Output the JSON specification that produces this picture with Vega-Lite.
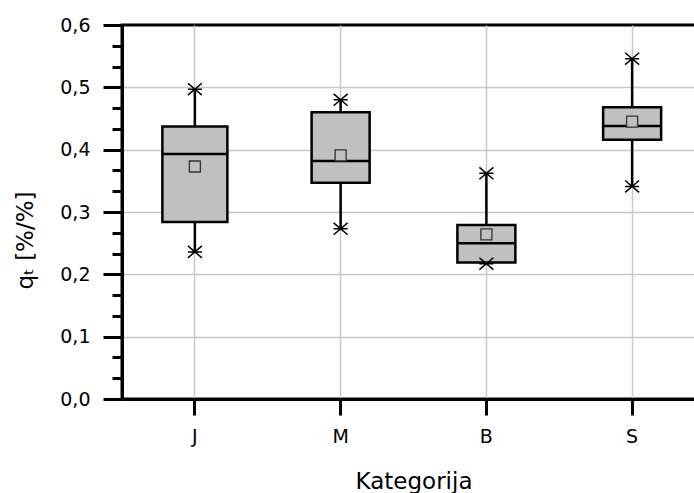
{
  "$schema": "https://vega.github.io/schema/vega-lite/v6.json",
  "autosize": "none",
  "padding": {"left": 122, "top": 25, "right": 0, "bottom": 94},
  "width": 583,
  "height": 374,
  "background": "white",
  "config": {
    "font": "DejaVu Sans",
    "view": {"stroke": "black", "strokeWidth": 3},
    "axis": {"labelFont": "DejaVu Sans", "titleFont": "DejaVu Sans", "labelColor": "black", "titleColor": "black", "titleFontWeight": "normal", "labelBound": false, "labelFlush": false, "labelOverlap": false}
  },
  "data": {
    "values": [
      {"cat": "J", "min": 0.236, "q1": 0.284, "median": 0.393, "q3": 0.437, "max": 0.497, "mean": 0.373},
      {"cat": "M", "min": 0.273, "q1": 0.347, "median": 0.382, "q3": 0.460, "max": 0.480, "mean": 0.391},
      {"cat": "B", "min": 0.217, "q1": 0.219, "median": 0.250, "q3": 0.279, "max": 0.362, "mean": 0.264},
      {"cat": "S", "min": 0.341, "q1": 0.416, "median": 0.438, "q3": 0.468, "max": 0.546, "mean": 0.445}
    ]
  },
  "encoding": {
    "x": {
      "field": "cat", "type": "nominal", "sort": ["J", "M", "B", "S"],
      "scale": {"paddingInner": 0, "paddingOuter": 0},
      "axis": {
        "title": "Kategorija", "titleFontSize": 23, "titlePadding": 24,
        "labelAngle": 0, "labelFontSize": 19, "labelPadding": 12,
        "bandPosition": 0.5,
        "domainColor": "black", "domainWidth": 3,
        "tickColor": "black", "tickWidth": 3, "tickSize": 16,
        "grid": true, "gridColor": "#c8c8c8", "gridWidth": 1.5
      }
    }
  },
  "layer": [
    {
      "mark": {"type": "rule", "color": "black", "strokeWidth": 2.5},
      "encoding": {
        "y": {
          "field": "min", "type": "quantitative",
          "scale": {"domain": [0, 0.6], "nice": false, "zero": true},
          "axis": {
            "title": "qₜ [%/%]", "titleFontSize": 23, "titleAngle": -90, "titleBaseline": "middle", "titleAlign": "center", "titleX": -97, "titleY": 215,
            "tickCount": 100,
            "values": [0, 0.03333, 0.06667, 0.1, 0.13333, 0.16667, 0.2, 0.23333, 0.26667, 0.3, 0.33333, 0.36667, 0.4, 0.43333, 0.46667, 0.5, 0.53333, 0.56667, 0.6],
            "labelExpr": "indexof([0, 0.1, 0.2, 0.3, 0.4, 0.5, 0.6], datum.value) >= 0 ? replace(format(datum.value, '.1f'), '.', ',') : ''",
            "labelFontSize": 19, "labelPadding": 13, "labelOverlap": false,
            "domainColor": "black", "domainWidth": 3,
            "tickColor": "black", "tickWidth": 3,
            "tickSize": {"condition": {"test": "indexof([0, 0.1, 0.2, 0.3, 0.4, 0.5, 0.6], datum.value) >= 0", "value": 19}, "value": 10},
            "grid": true, "gridColor": "#c8c8c8", "gridWidth": 1.5,
            "gridOpacity": {"condition": {"test": "indexof([0, 0.1, 0.2, 0.3, 0.4, 0.5], datum.value) >= 0", "value": 1}, "value": 0}
          }
        },
        "y2": {"field": "max"}
      }
    },
    {
      "mark": {"type": "bar", "fill": "#c0c0c0", "stroke": "black", "strokeWidth": 2.5},
      "encoding": {
        "y": {"field": "q1", "type": "quantitative"},
        "y2": {"field": "q3"},
        "size": {"condition": {"test": "datum.cat === 'J'", "value": 65}, "value": 58}
      }
    },
    {
      "mark": {"type": "tick", "color": "black", "thickness": 2.5, "opacity": 1},
      "encoding": {
        "y": {"field": "median", "type": "quantitative"},
        "size": {"condition": {"test": "datum.cat === 'J'", "value": 65}, "value": 58}
      }
    },
    {
      "mark": {"type": "point", "shape": "square", "size": 121, "filled": false, "fill": "#c0c0c0", "fillOpacity": 1, "stroke": "#333333", "strokeWidth": 1.3, "opacity": 1},
      "encoding": {
        "y": {"field": "mean", "type": "quantitative"}
      }
    },
    {
      "mark": {"type": "point", "shape": "M-1,-0.85L1,0.85M-1,0.85L1,-0.85M-1,0L1,0", "size": 196, "filled": false, "stroke": "black", "strokeWidth": 1.5, "opacity": 1},
      "encoding": {
        "y": {"field": "max", "type": "quantitative"}
      }
    },
    {
      "mark": {"type": "point", "shape": "M-1,-0.85L1,0.85M-1,0.85L1,-0.85M-1,0L1,0", "size": 196, "filled": false, "stroke": "black", "strokeWidth": 1.5, "opacity": 1},
      "encoding": {
        "y": {"field": "min", "type": "quantitative"}
      }
    }
  ]
}
